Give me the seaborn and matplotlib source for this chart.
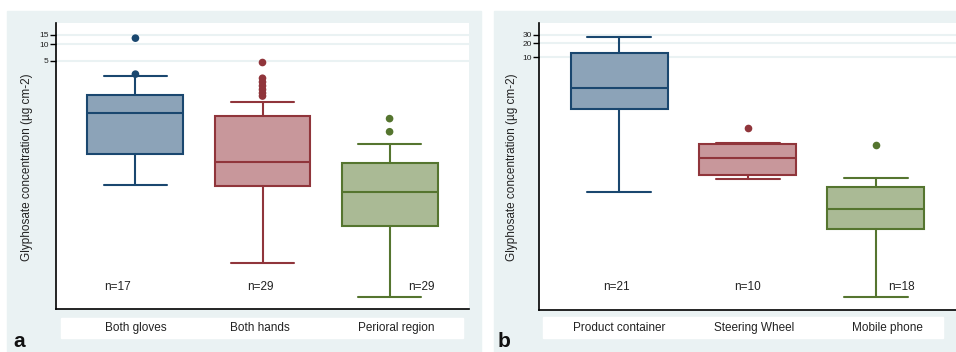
import numpy as np
import pandas as pd
import matplotlib.pyplot as plt
import seaborn as sns
from matplotlib.patches import Rectangle
from matplotlib.transforms import blended_transform_factory

sns.set_theme(style="white")
plt.rcParams['font.family'] = ['Liberation Sans', 'DejaVu Sans']

# Panel a: body areas
cats_a = ["Both gloves", "Both hands", "Perioral region"]
n_a = [17, 29, 29]
lo_a = [0.025, 0.0009, 0.00021]
q1_a = [0.093, 0.024, 0.0044]
med_a = [0.54, 0.065, 0.018]
q3_a = [1.15, 0.47, 0.063]
hi_a = [2.6, 0.87, 0.14]
fliers_a = [[2.8, 13.0], [1.1, 1.25, 1.45, 1.7, 2.0, 2.35, 4.6], [0.24, 0.42]]

# Panel b: surfaces
cats_b = ["Product container", "Steering Wheel", "Mobile phone"]
n_b = [21, 10, 18]
lo_b = [0.013, 0.0245, 0.000074]
q1_b = [0.79, 0.030, 0.0021]
med_b = [2.2, 0.071, 0.0056]
q3_b = [12.4, 0.138, 0.017]
hi_b = [27.6, 0.146, 0.026]
fliers_b = [[], [0.30], [0.13]]

edge_cols = ["#1a476f", "#90353b", "#55752f"]
fill_cols = ["#8ca3b8", "#c8979b", "#aaba95"]
BG = "#eaf2f3"

W, H = 956, 352
fig = plt.figure(figsize=(W / 100, H / 100), dpi=100)
fig.patch.set_facecolor("white")


def fx(px):
    return px / W


def fy(py):
    return 1 - py / H


# panel backgrounds and the white label bands (behind the axes)
for x0, x1 in [(7, 481), (494, 956)]:
    fig.patches.append(Rectangle((fx(x0), 0), fx(x1) - fx(x0), fy(11),
                                 transform=fig.transFigure, color=BG, zorder=-2))
for x0, x1, y0, y1 in [(61, 463, 318, 338), (543, 943, 317, 338)]:
    fig.patches.append(Rectangle((fx(x0), fy(y1)), fx(x1) - fx(x0), fy(y0) - fy(y1),
                                 transform=fig.transFigure, color="white", zorder=-1))


def draw_panel(ax, cats, n, lo, q1, med, q3, hi, fliers, ylim, yticks,
               n_off, lab_off, n_y):
    ax.set_yscale("log")
    stats = []
    for i in range(len(cats)):
        stats.append(dict(whislo=lo[i], q1=q1[i], med=med[i], q3=q3[i],
                          whishi=hi[i], fliers=[]))
    art = ax.bxp(stats, positions=range(len(cats)), widths=0.755,
                 capwidths=0.5, patch_artist=True, showfliers=False,
                 manage_ticks=False)
    for i in range(len(cats)):
        c = edge_cols[i]
        art["boxes"][i].set(facecolor=fill_cols[i], edgecolor=c, linewidth=1.5)
        art["medians"][i].set(color=c, linewidth=1.5)
        for a in art["whiskers"][2 * i:2 * i + 2] + art["caps"][2 * i:2 * i + 2]:
            a.set(color=c, linewidth=1.5)

    # outside values
    df = pd.DataFrame([(cats[i], v) for i in range(len(cats)) for v in fliers[i]],
                      columns=["cat", "val"])
    sns.stripplot(data=df, x="cat", y="val", hue="cat", order=cats,
                  hue_order=cats, palette=edge_cols, jitter=False, size=5.5,
                  linewidth=0, legend=False, ax=ax, zorder=3)

    ax.set_xlim(-0.625, len(cats) - 0.375)
    ax.set_ylim(*ylim)
    ax.set_yticks(yticks)
    ax.set_yticklabels([str(t) for t in yticks])
    ax.yaxis.set_minor_locator(plt.NullLocator())
    ax.set_xticks([])
    ax.set_xlabel("")
    ax.set_ylabel("")
    ax.yaxis.grid(True, color=BG, linewidth=1.5)
    ax.set_axisbelow(True)
    ax.tick_params(axis="y", which="major", left=True, length=4, width=1,
                   color="black", labelsize=6, pad=1.5, labelcolor="#222222")
    for s in ["top", "right"]:
        ax.spines[s].set_visible(False)
    for s in ["left", "bottom"]:
        ax.spines[s].set_color("black")
        ax.spines[s].set_linewidth(1.2)
    ax.set_facecolor("white")

    tr = blended_transform_factory(ax.transData, ax.transAxes)
    for i in range(len(cats)):
        ax.text(i + n_off[i], n_y, f"n={n[i]}", transform=tr, ha="center",
                va="center", fontsize=8.5, color="#222222")
    trf = blended_transform_factory(ax.transData, fig.transFigure)
    for i in range(len(cats)):
        ax.text(i + lab_off[i], fy(328), cats[i], transform=trf, ha="center",
                va="center", fontsize=8.5, color="#222222", clip_on=False)


ax_a = fig.add_axes([fx(56), fy(309), fx(469) - fx(56), fy(23) - fy(309)])
draw_panel(ax_a, cats_a, n_a, lo_a, q1_a, med_a, q3_a, hi_a, fliers_a,
           (1.25e-4, 24.8), [5, 10, 15], [-0.14, -0.02, 0.25],
           [0.0, -0.02, 0.05], 0.078)

ax_b = fig.add_axes([fx(539.3), fy(309.7), fx(956) - fx(539.3), fy(23) - fy(309.7)])
draw_panel(ax_b, cats_b, n_b, lo_b, q1_b, med_b, q3_b, hi_b, fliers_b,
           (3.94e-5, 54.2), [10, 20, 30], [-0.02, 0.0, 0.2],
           [0.0, 0.05, 0.09], 0.080)

ylab = "Glyphosate concentration (\u00b5g cm-2)"
fig.text(fx(27), fy(167), ylab, rotation=90, ha="center", va="center",
         fontsize=8.5, color="#222222")
fig.text(fx(512), fy(167), ylab, rotation=90, ha="center", va="center",
         fontsize=8.5, color="#222222")

fig.text(fx(13), fy(347), "a", fontsize=15, fontweight="bold", ha="left",
         va="baseline", color="#111111")
fig.text(fx(498), fy(347), "b", fontsize=15, fontweight="bold", ha="left",
         va="baseline", color="#111111")

fig.savefig("out.png", dpi=100, facecolor="white")
